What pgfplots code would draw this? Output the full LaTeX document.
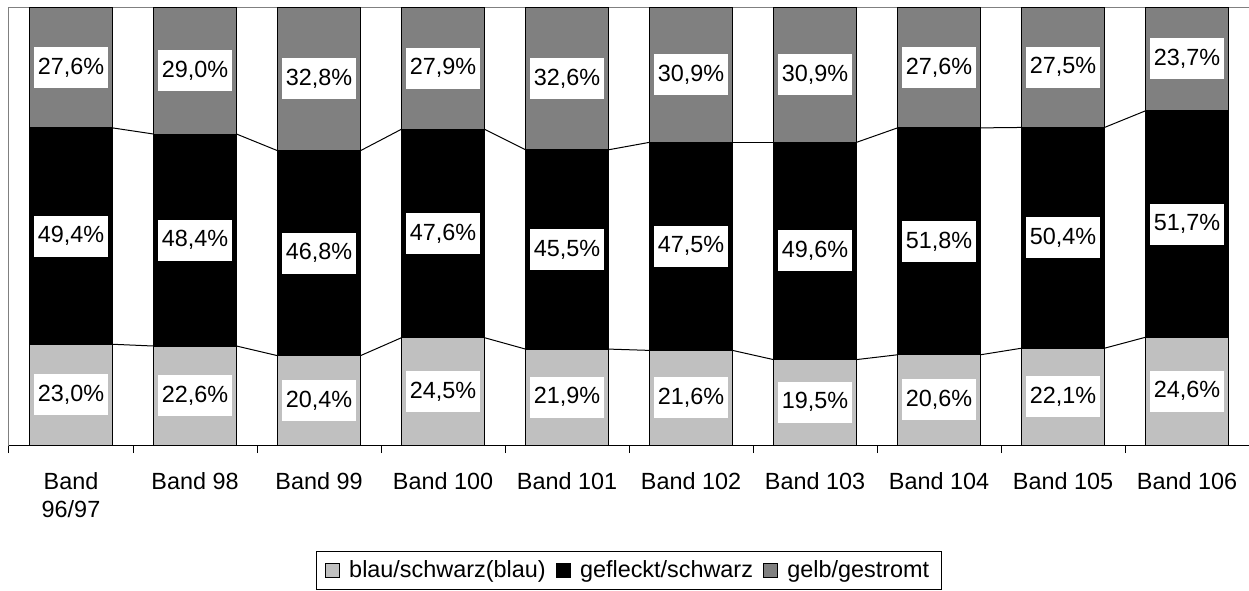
\documentclass[border=0pt]{standalone}
\usepackage{pgfplots}
\pgfplotsset{compat=1.18}
\usepackage{pgfplotstable}
\usepackage{fontspec}
\setmainfont{Liberation Sans}
\definecolor{cblau}{HTML}{C0C0C0}
\definecolor{cgelb}{HTML}{808080}
\pgfplotstableread{
x a b c
0 23.0 49.4 27.6
1 22.6 48.4 29.0
2 20.4 46.8 32.8
3 24.5 47.6 27.9
4 21.9 45.5 32.6
5 21.6 47.5 30.9
6 19.5 49.6 30.9
7 20.6 51.8 27.6
8 22.1 50.4 27.5
9 24.6 51.7 23.7
}\data
\newcommand\lblfont{\fontsize{11.7}{14}\selectfont}
\pgfplotsset{
  base/.style={scale only axis, width=620pt, height=219pt,
    xmin=-0.5, xmax=9.5, ymin=0, ymax=100},
  lbl/.style={draw=none, mark=none,
    point meta=#1,
    nodes near coords={\pgfmathprintnumber[fixed, fixed zerofill, precision=1, use comma, assume math mode=true]{\pgfplotspointmeta}\%},
    every node near coord/.append style={anchor=center, fill=white, text=black, font=\lblfont,
      inner xsep=1.8pt, inner ysep=0pt, minimum height=20.5pt}},
}
\begin{document}
\begin{tikzpicture}
\begin{axis}[base,
  ybar stacked, bar width=41.5pt,
  axis line style={draw=gray, line width=0.5pt},
  ytick=\empty,
  xtick={0,...,9},
  xticklabels={{Band\\96/97},Band 98,Band 99,Band 100,Band 101,Band 102,Band 103,Band 104,Band 105,Band 106},
  major tick length=0pt,
  minor xtick={-0.5,0.5,...,9.5},
  minor tick length=4pt,
  tick align=outside,
  xtick pos=bottom,
  tick style={black, line width=0.5pt},
  xticklabel style={font=\lblfont, align=center, anchor=north, inner sep=0pt, yshift=-13.5pt},
  legend columns=3,
  legend style={at={(0.5,-0.331)}, anchor=south, draw=black, line width=0.5pt, font=\lblfont,
    inner xsep=4pt, inner ysep=2.5pt, nodes={inner xsep=2pt},
    /tikz/every odd column/.append style={column sep=2.5pt},
    /tikz/every even column/.append style={column sep=3pt}},
  legend image code/.code={\draw[#1, draw=black, line width=0.5pt] (0pt,-3.6pt) rectangle (7.2pt,3.6pt);},
]
\addplot[fill=cblau, draw=black, line width=0.5pt] table[x=x,y=a]{\data};
\addplot[fill=black, draw=black, line width=0.5pt] table[x=x,y=b]{\data};
\addplot[fill=cgelb, draw=black, line width=0.5pt] table[x=x,y=c]{\data};
\legend{blau/schwarz(blau), gefleckt/schwarz, gelb/gestromt}
\coordinate (SW) at (rel axis cs:0,0);
\coordinate (NE) at (rel axis cs:1,1);
\end{axis}
\begin{axis}[base, hide axis, clip=false]
\draw[black, line width=0.5pt] (rel axis cs:0,0) -- (rel axis cs:1,0);
\pgfplotsinvokeforeach{0,...,8}{
  \addplot[black, line width=0.5pt, mark=none, unbounded coords=discard]
    table[x expr={\coordindex + (\coordindex==#1 ? 0.3347 : -0.3347)},
          y expr={(\coordindex==#1 || \coordindex==#1+1) ? \thisrow{a} : nan}]{\data};
  \addplot[black, line width=0.5pt, mark=none, unbounded coords=discard]
    table[x expr={\coordindex + (\coordindex==#1 ? 0.3347 : -0.3347)},
          y expr={(\coordindex==#1 || \coordindex==#1+1) ? \thisrow{a}+\thisrow{b} : nan}]{\data};
}
\addplot[lbl=\thisrow{a}] table[x=x, y expr=\thisrow{a}/2]{\data};
\addplot[lbl=\thisrow{b}] table[x=x, y expr=\thisrow{a}+\thisrow{b}/2]{\data};
\addplot[lbl=\thisrow{c}] table[x=x, y expr=\thisrow{a}+\thisrow{b}+\thisrow{c}/2]{\data};
\end{axis}
\pgfresetboundingbox
\path ([xshift=-4.5pt,yshift=-72.5pt]SW) rectangle ([yshift=3.5pt]NE);
\end{tikzpicture}
\end{document}
